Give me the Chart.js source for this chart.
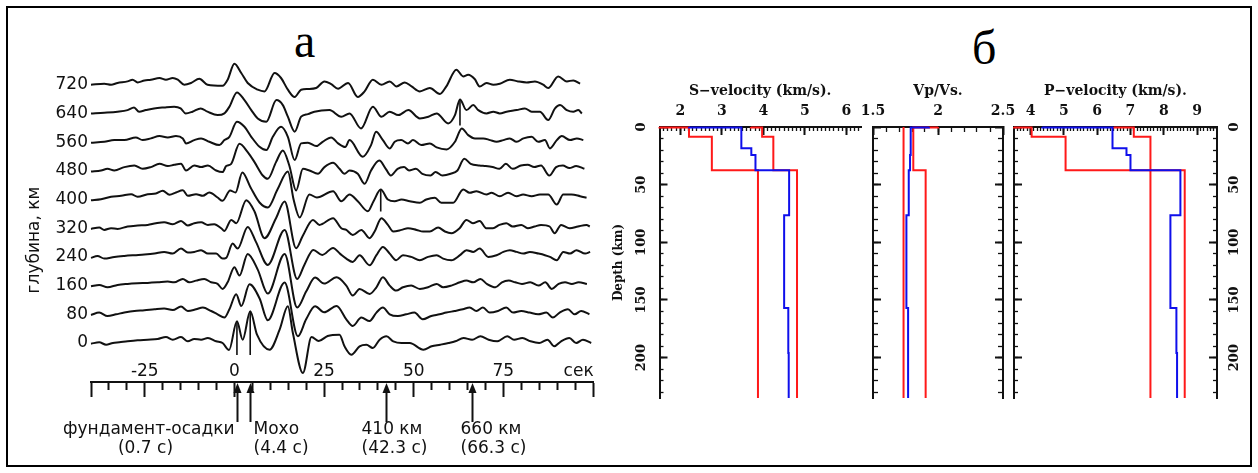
<!DOCTYPE html>
<html>
<head>
<meta charset="utf-8">
<script src="https://cdn.jsdelivr.net/npm/chart.js@4.4.0/dist/chart.umd.min.js"></script>
<style>
  html, body { margin: 0; padding: 0; background: #fff; }
  body { width: 1258px; height: 473px; position: relative; overflow: hidden; }
  .frame { position: absolute; left: 6px; top: 6px; width: 1242px; height: 457px; border: 2px solid #000; }
  canvas { position: absolute; top: 0; }
  .letter { position: absolute; font-family: "Liberation Serif", serif; font-size: 48px; line-height: 1; color: #000; }
</style>
</head>
<body>
<div class="frame"></div>
<div class="letter" style="left:294px; top:17px;">а</div>
<div class="letter" style="left:972px; top:24px;">б</div>
<canvas id="rf" width="620" height="473" style="left:0"></canvas>
<canvas id="vs" width="340" height="473" style="left:560px"></canvas>
<canvas id="vpvs" width="210" height="473" style="left:830px"></canvas>
<canvas id="vp" width="288" height="473" style="left:970px"></canvas>
<script>
// ---- panel a: receiver functions, [time s, amplitude] ----
const depthLabels = [0, 80, 160, 240, 320, 400, 480, 560, 640, 720];

const tr0 = [[-40,-0.7],[-37.7,0.7],[-35.8,-1.7],[-33.9,0],[-32.1,0.7],[-29.8,1.7],[-27,2.7],[-24.2,3.3],[-21.4,4],[-19.1,6],[-17.2,3.3],[-14.9,6],[-13,1.7],[-11.2,4],[-9.3,3.3],[-7.4,5],[-5.1,1.7],[-3.3,0],[-1.5,-7],[0.7,21.7],[2.3,3.3],[4.4,31.7],[6.3,8.3],[9.8,-6.7],[12.6,13.3],[14.9,36.7],[16.3,10],[19.1,-30],[21.5,6],[23.5,2],[26,7],[29.3,8.3],[30.7,-3.3],[32.6,-11.7],[34.9,-3.3],[36.8,-1.7],[38.6,-5],[40.5,3.3],[42.4,6.7],[44.3,1.7],[46.6,0],[48.9,0],[52.7,-6.7],[55,-3.3],[57.4,-1.7],[59.7,0],[61.6,1.7],[63.9,5],[66.3,3.3],[68.6,6.7],[70.9,3.3],[73.3,1.7],[76.1,6.7],[78,3.3],[80.3,5],[82.6,1.7],[85,0],[87.3,3.3],[89.2,-3.3],[91.1,1.7],[93.4,5],[95.3,0],[97.2,3.3],[99.5,0]];
const tr80 = [[-40,-0.7],[-37.7,1.7],[-35.4,-1.7],[-33,0],[-30.7,1.7],[-27.9,3.3],[-25.1,4],[-22.3,5],[-19.6,5.7],[-17.2,4.3],[-14.9,7.7],[-13,3.3],[-10.7,5],[-8.8,6.7],[-6.5,3.3],[-4.7,0],[-2.8,-3.3],[-1.4,5],[0.5,20],[1.9,8.3],[4.2,30],[7,16],[9.3,-6],[14,31.7],[17.7,-22],[20,-5],[22.5,8],[25,2],[28.5,8.3],[31.2,-5],[33,-11.7],[35.4,-3.3],[37.7,-6.7],[39.6,1.7],[41.4,6.7],[43.3,0],[45.6,-1.7],[47.9,0],[50.2,1.7],[52.5,-5],[54.9,-1.7],[57.2,0],[59.1,1.7],[61.4,3.3],[63.7,5],[65.6,6.7],[67.5,3.3],[69.3,6.7],[71.2,1.7],[73.5,3.3],[75.8,6.7],[77.7,1.7],[80,3.3],[82.3,1.7],[84.7,0],[87,1.7],[88.8,-3.3],[90.7,1.7],[93,5],[94.9,0],[96.7,3.3],[99,0]];
const tr160 = [[-40,-0.7],[-37.7,0.7],[-35.4,-1.7],[-32.6,0.7],[-29.8,1.7],[-27,2.3],[-24.2,2.7],[-21.4,3.3],[-18.6,4],[-16.8,3.3],[-14.4,6.7],[-12.6,3.3],[-10.7,5],[-8.4,6.7],[-6.5,3.3],[-4.7,1.7],[-3.3,-3.3],[-1.9,3.3],[0,18.3],[1.4,10],[3.7,31.7],[6.5,16],[9.3,-8],[14,31.7],[17.5,-22],[20,-6],[22.5,8],[25,2],[28.5,8.3],[31.2,0],[33,-10],[34.9,-3.3],[37.7,-8.3],[39.6,-1.7],[41.4,8.3],[43.3,0],[45.1,-5],[47,-1.7],[49.3,0],[51.7,-3.3],[54,-1.7],[56.4,1.7],[58.2,-1.7],[60.5,0],[62.9,3.3],[64.7,5],[66.6,3.3],[68.6,6.7],[70.4,1.7],[72.8,-1.7],[74.6,3.3],[76.5,5],[78.3,3.3],[80.2,1.7],[82.5,3.3],[84.8,0],[86.7,3.3],[88.5,-3.3],[90.4,1.7],[92.2,3.3],[94.1,1.7],[96,3.3],[98.3,1.7]];
const tr240 = [[-40,-1],[-38.2,1],[-36.3,-1.7],[-33.5,0],[-30.7,1],[-27.9,1.7],[-25.1,2.3],[-22.3,3.3],[-19.6,5],[-17.2,3.3],[-14.9,8.3],[-13,4.3],[-11.2,5],[-9.3,6.7],[-7.4,3.3],[-5.1,3.3],[-3.3,-1.7],[-2.3,-1],[-0.5,13.3],[0.9,8.3],[3.7,30],[6,15],[9.3,-8],[14,27],[17.5,-22],[19.5,-8],[22,7],[24.5,2],[27.5,9],[29.5,3],[31.2,-1.7],[33,-5],[34.9,1.7],[37.7,-8.3],[39.6,1.7],[41.4,10],[43.3,3.3],[45.1,-3.3],[47,1.7],[49.3,0],[51.7,-3.3],[54,0],[56.4,1.7],[58.2,-1.7],[60.5,-3.3],[62.9,1.7],[64.7,6.7],[66.6,5],[68.4,8.3],[70.8,0],[73.1,1.7],[75,5],[76.8,6.7],[78.7,5],[80.6,3.3],[82.4,5],[84.8,3.3],[86.6,1.7],[88,0],[89.9,-3.3],[91.7,5],[93.6,3.3],[95.4,6.7],[97.8,3.3],[99.2,5]];
const tr320 = [[-40,-0.7],[-37.7,0.7],[-36.3,-1.7],[-34.4,0],[-32.6,-0.7],[-29.8,1.7],[-27,2.7],[-24.2,3.3],[-21.9,5],[-19.6,6],[-17.2,4],[-14.9,7.3],[-13,2.7],[-11.2,5],[-9.3,6],[-7.4,3.3],[-5.6,4],[-3.7,0],[-2.8,-2.7],[-0.9,8.3],[0.5,5],[3.3,28],[5.6,16.7],[8.4,-10],[11.6,10],[14,26.7],[17.2,-20],[19,-8],[21.9,8.3],[23.7,3.3],[27.5,10],[29.8,0],[31.2,-1.7],[33,-6.7],[35.4,-1.7],[37.7,-10],[39.1,-3.3],[41,10],[42.8,3.3],[44.3,-3.3],[46.6,-1.7],[48.4,0],[50.8,-1.7],[52.6,-3.3],[54.5,-3.3],[56.8,0.7],[58.7,-3.3],[60.5,-5],[62.8,0],[64.7,8.3],[66.5,5],[68.4,7.3],[70.2,0],[72.1,0],[73.9,3.3],[75.8,5],[77.6,1.7],[80,3.3],[81.8,0],[83.7,1.7],[85.5,3.3],[87.9,1.7],[89.3,-5],[91.1,3.3],[93.5,0],[95.8,1.7],[98.2,3.3],[99.1,1.7]];
const tr400 = [[-40,-0.7],[-37.2,0.3],[-34.4,2.7],[-31.6,3.7],[-28.8,5.3],[-27,2.7],[-24.2,5.3],[-21.9,6],[-20,8.7],[-18.1,4.7],[-16.3,7],[-14.4,9.3],[-13,3.7],[-10.7,5.3],[-8.8,3.7],[-7,7],[-4.7,2],[-3.3,-1.3],[-1.2,9],[0.3,7],[2.2,27],[4.5,12],[7,-3],[9.3,-8],[12,10],[14.9,28],[16.5,0],[18.2,-18],[20.9,5],[23,2],[27.5,8.3],[29.8,-1.7],[32.1,5],[34.4,-1.7],[37.2,-11.7],[38.8,-1.7],[40.8,10],[42.8,0],[44.7,-1.7],[46.6,0],[48.9,-1.7],[51.7,-3.3],[53.5,0],[55.9,1.7],[57.7,-3.3],[61,-3.3],[63.8,10],[65.6,6.7],[67.5,8.3],[70.3,5],[71.7,6.7],[74,3.3],[76.3,6.7],[78.7,3.3],[80.5,5],[82.9,3.3],[85.2,5],[87.5,5],[89.9,-5],[91.7,5],[94,5],[96.4,3.3],[98.2,1.7]];
const tr480 = [[-40,-0.7],[-37.2,0.3],[-35.4,2],[-33.5,0.3],[-30.7,3.7],[-27.9,5.3],[-25.6,2],[-23.3,3.7],[-20.9,7],[-18.6,4.7],[-16.8,6],[-14.9,7],[-13.5,0.3],[-11.2,5.3],[-9.3,3.7],[-7.4,5.3],[-5.1,0.3],[-3.3,-1.3],[-2.3,4.7],[-0.9,7],[1.4,27],[3.7,18.7],[5.6,8.7],[7.9,-4.7],[9.3,-8],[11.6,8.7],[13.5,20.3],[15.3,5.3],[17.2,-19.7],[19.1,2],[20.9,0.3],[23.3,-3],[25.1,3.7],[27.5,8],[29.3,2],[30.7,-3],[32.1,0.3],[34.4,-3],[36.3,-13],[38.1,0.3],[40.4,10.3],[42.2,2],[43.6,-4.7],[45.5,2],[47.3,3.7],[48.7,0.3],[50.6,2],[52.4,-3],[54.7,-4.7],[56.1,-1.3],[58,-4.7],[60.3,-3],[62.2,0.3],[64.1,12],[65.9,7],[68.3,5.3],[70.1,4.7],[72,3.7],[73.9,2],[75.7,7],[77.6,2],[79.9,5.3],[81.8,6],[83.6,3.7],[85.5,5.3],[87.8,-4.7],[89.7,3.7],[91.6,5.3],[93.4,2.7],[95.3,4.7],[97.6,2]];
const tr560 = [[-40,-0.7],[-36.3,0.3],[-33.5,2],[-30.7,2],[-27.5,4.7],[-25.6,2],[-23.3,3.7],[-20.9,6],[-18.6,4.7],[-16.3,6],[-14.4,3.7],[-13.5,-1.3],[-11.2,2],[-9.3,3.7],[-7,0.3],[-4.2,-3],[-2.8,2],[-1.4,5.3],[0.7,20.3],[2.8,15.3],[4.7,5.3],[7,-4.7],[8.9,-8],[10.7,5.3],[13,15.3],[14.9,5.3],[16.8,-18],[18.6,-1.3],[20.5,-0.7],[22.8,-4],[24.6,0.3],[27,4.7],[28.9,-1.3],[30.9,-5],[32.1,2],[35.8,-14.7],[38.1,-3],[39.5,10.3],[41.4,2],[43.3,-6.3],[44.7,0.3],[46.5,2],[48.4,-1.3],[49.8,2],[52.1,-3],[54.5,-1.3],[56.4,-5.3],[59.2,-7.3],[61.5,0.3],[63.4,13.7],[65.2,7],[67.1,3.7],[69.4,3.7],[71.3,2],[73.1,0.3],[75,2],[76.8,3.7],[78.7,0.3],[80.6,3.7],[82.9,5.3],[84.7,0.3],[86.6,2],[88,-6.3],[89.9,2],[91.3,6],[93.6,2],[95.5,3.7],[97.3,2]];
const tr640 = [[-40,0],[-36.3,0.7],[-32.6,1.7],[-29.8,3.3],[-28,6],[-26.6,1.7],[-24.7,3.3],[-22.4,5],[-19.6,6],[-16.8,6.7],[-15,5],[-13.6,0],[-11.7,1.7],[-9.4,5],[-7.5,1.7],[-4.7,-1.7],[-2.8,0],[-1.4,6.7],[0.7,21],[2.8,13.3],[4.7,3.3],[6.5,-5],[8.9,-8.3],[11.7,13.3],[13.5,8.3],[14.9,-3.3],[16.8,-18.3],[18.6,-3.3],[20.5,-0.7],[22.3,1.7],[26.5,3.3],[29.8,-3.3],[32.1,0],[35.3,-15],[38.6,6.7],[41,-3.3],[43.3,1.7],[45.7,-1.7],[48.5,3.3],[51.7,-5],[54.1,-3.3],[56.4,0],[59.6,-10],[61.5,-1.7],[62.9,14],[64.7,3.3],[66.6,8.3],[68,3.3],[70.3,0],[72.2,1.7],[74,0],[75.9,1.7],[78.7,3.3],[81,5],[82.9,1.7],[85.2,1.7],[87.5,-6.7],[89.4,5],[90.8,8.3],[92.7,3.3],[94.5,1.7],[95.9,3.3],[96.9,0]];
const tr720 = [[-40,0],[-36.3,1],[-34.4,0],[-32.6,1.7],[-29.8,3.3],[-28.4,5],[-27,2.3],[-25.1,4.3],[-23.3,5],[-20.9,6.7],[-19.1,5],[-17.2,6.7],[-15.8,5],[-14,0],[-12.1,1.7],[-9.8,6],[-7.5,0],[-3.3,-1],[-1.9,5],[0,21],[1.9,11.7],[3.7,1.7],[6.5,-5],[8.4,-6.7],[11.2,11.7],[13,6.7],[14.9,-5],[16.8,-12.3],[18.6,-5],[20.5,-4.3],[22.8,-3.3],[25.1,3.3],[27,0.5],[28.9,-4],[31.7,1.7],[34.4,-12.3],[36.3,-6.7],[38.6,5],[41,0],[43.3,3.3],[45.2,-1.7],[47.5,2.3],[49.4,-1.7],[51.7,-6.7],[54.5,-3.3],[57.3,-9.3],[59.1,-1.7],[61.9,15],[63.8,8.3],[65.2,10],[67,5.7],[68.4,-1.7],[70.3,1.7],[72.2,0],[74,1],[76.8,5],[79.1,3.3],[81.5,2.3],[83.8,3.3],[86.1,0],[87.5,-3.3],[90.3,8.3],[92.7,3.3],[94.5,4.3],[96.4,1]];
const traces = [tr0, tr80, tr160, tr240, tr320, tr400, tr480, tr560, tr640, tr720];

// picks marked on the traces
const pickTimes = [0.7, 4.4, 40.8, 62.9];
const pickDepths = [0, 0, 400, 640];
const pickTops = [21.7, 31.7, 10, 14];

// phases marked under the time axis
const phaseTimes = [0.7, 4.4, 42.3, 66.3];
const phaseNames = ['фундамент-осадки', 'Мохо', '410 км', '660 км'];

const timeTicks = [-25, 0, 25, 50, 75];
const timeUnit = 'сек';

// ---- panel b: velocity models, depth in km ----
const depthTicks = [0, 50, 100, 150, 200];
const sTicks = [2, 3, 4, 5, 6];
const ratioTicks = [1.5, 2, 2.5];
const pTicks = [4, 5, 6, 7, 8, 9];

const boundTops = [0, 0.5, 8.4, 37.4];
const sLow = [1.5, 2.21, 2.76, 3.87];
const sHigh = [3.7, 3.97, 4.24, 4.81];
const ratioLow = [1.735, 1.735, 1.735, 1.735];
const ratioHigh = [2.0, 1.81, 1.81, 1.905];
const pLow = [3.5, 4.03, 5.05, 7.6];
const pHigh = [6.5, 7.1, 7.6, 8.63];

const modelTops = [0, 0.5, 18.5, 24.3, 37.4, 76.5, 157, 196];
const sModel = [2.21, 3.47, 3.71, 3.81, 4.62, 4.5, 4.6, 4.61];
const ratioModel = [1.93, 1.79, 1.79, 1.785, 1.775, 1.757, 1.77, 1.77];
const pModel = [4.35, 6.46, 6.88, 7.0, 8.5, 8.2, 8.38, 8.4];

// ------------------------------------------------------------------
const ink = '#111';
const red = 'rgb(255,25,25)';
const blue = 'rgb(15,15,235)';
const traceGap = 28.7;
const depthMax = 235;

Chart.defaults.font.family = '"DejaVu Sans", sans-serif';
Chart.defaults.font.size = 17;
Chart.defaults.color = ink;

function steps(from, to, step) {
  const out = [];
  const n = Math.round((to - from) / step);
  for (let i = 0; i <= n; i++) out.push(+(from + i * step).toFixed(3));
  return out;
}

const phaseText = [
  { a1: 'right', d1: -3, a2: 'center', d2: -92 },
  { a1: 'left', d1: 3, a2: 'left', d2: 3 },
  { a1: 'left', d1: -25, a2: 'left', d2: -25 },
  { a1: 'left', d1: -12, a2: 'left', d2: -12 }
];

const phaseArrows = {
  id: 'phaseArrows',
  afterDraw(chart) {
    const { ctx, chartArea } = chart;
    const xs = chart.scales.x;
    const tip = chartArea.bottom + 1;
    ctx.save();
    ctx.fillStyle = ink;
    ctx.strokeStyle = ink;
    ctx.lineWidth = 2;
    ctx.font = '17px "DejaVu Sans"';
    ctx.textBaseline = 'middle';
    phaseTimes.forEach((t, i) => {
      const px = Math.round(xs.getPixelForValue(t)) + 0.5;
      ctx.beginPath();
      ctx.moveTo(px, tip + 6);
      ctx.lineTo(px, tip + 39);
      ctx.stroke();
      ctx.beginPath();
      ctx.moveTo(px, tip);
      ctx.lineTo(px - 4, tip + 10);
      ctx.lineTo(px + 4, tip + 10);
      ctx.closePath();
      ctx.fill();
      const st = phaseText[i];
      ctx.textAlign = st.a1;
      ctx.fillText(phaseNames[i], px + st.d1, chartArea.bottom + 48);
      ctx.textAlign = st.a2;
      ctx.fillText('(' + t + ' с)', px + st.d2, chartArea.bottom + 67);
    });
    ctx.restore();
  }
};

const rfData = traces.map((tr, k) => ({
  data: tr.map(([t, a]) => ({ x: t, y: a + k * traceGap })),
  borderColor: ink,
  borderWidth: 2,
  cubicInterpolationMode: 'monotone',
  clip: false
}));
pickTimes.forEach((t, i) => {
  const base = depthLabels.indexOf(pickDepths[i]) * traceGap;
  rfData.push({
    data: [{ x: t, y: base + pickTops[i] }, { x: t, y: base - 12 }],
    borderColor: ink,
    borderWidth: 1.6,
    tension: 0,
    clip: false
  });
});

const majorTimes = [-40].concat(timeTicks, [96, 100]);

new Chart(document.getElementById('rf'), {
  type: 'line',
  data: { datasets: rfData },
  plugins: [phaseArrows],
  options: {
    responsive: false,
    animation: false,
    events: [],
    layout: { padding: { left: 20, right: 27, top: 98, bottom: 76 } },
    plugins: { legend: { display: false }, tooltip: { enabled: false } },
    elements: { point: { radius: 0 }, line: { capBezierPoints: false } },
    scales: {
      x: {
        type: 'linear', position: 'bottom', weight: 0, min: -40, max: 100,
        ticks: { display: false, stepSize: 5 },
        grid: { drawOnChartArea: false, tickLength: 8, tickWidth: 2, tickColor: ink },
        border: { display: true, color: ink, width: 2 },
        afterFit: s => { s.height = 8; }
      },
      xMajor: {
        type: 'linear', position: 'bottom', weight: 1, min: -40, max: 100,
        afterBuildTicks: s => { s.ticks = majorTimes.map(v => ({ value: v })); },
        ticks: {
          autoSkip: false, maxRotation: 0, mirror: true, padding: 8, color: ink,
          callback: v => timeTicks.includes(v) ? String(v) : (v === 96 ? timeUnit : '')
        },
        grid: {
          drawOnChartArea: false, tickLength: 7, tickWidth: 2,
          tickColor: c => (c.tick && c.tick.value === 96) ? 'rgba(0,0,0,0)' : ink
        },
        border: { display: false },
        afterFit: s => { s.height = 7; }
      },
      y: {
        type: 'linear', position: 'left', min: -39, max: 245,
        afterBuildTicks: s => { s.ticks = depthLabels.map((d, k) => ({ value: k * traceGap })); },
        ticks: { autoSkip: false, padding: 3, color: ink, callback: (v, i) => String(depthLabels[i]) },
        grid: { display: false, drawTicks: false },
        border: { display: false },
        title: { display: true, text: 'глубина, км', color: ink, font: { size: 17 } },
        afterFit: s => { s.width = 71; }
      }
    }
  }
});

// ---- velocity panels ----
const serifBold = size => ({ family: '"DejaVu Serif", serif', size, weight: 'bold' });
const depthMinor = steps(10, 230, 10);

function edgePair(side, range, majorTicks, minorTicks, o) {
  const horiz = side === 'top';
  const sizeKey = horiz ? 'height' : 'width';
  const common = { type: 'linear', position: side, min: range[0], max: range[1], reverse: !horiz };
  const minor = Object.assign({}, common, {
    weight: 0,
    afterBuildTicks: s => { s.ticks = minorTicks.map(v => ({ value: v })); },
    afterFit: s => { s[sizeKey] = 0; },
    ticks: { display: false },
    grid: { drawOnChartArea: false, tickLength: -o.minorLen, tickWidth: 1.3, tickColor: ink },
    border: { display: false }
  });
  const major = Object.assign({}, common, {
    weight: 1,
    afterBuildTicks: s => { s.ticks = majorTicks.map(v => ({ value: v })); },
    afterFit: s => { s[sizeKey] = o.size; },
    ticks: {
      display: !!o.labels, autoSkip: false, color: ink, padding: o.pad || 0,
      font: serifBold(o.fontSize || 14),
      minRotation: horiz ? 0 : 90, maxRotation: horiz ? 0 : 90,
      crossAlign: horiz ? 'near' : 'center',
      callback: v => String(v)
    },
    grid: { drawOnChartArea: false, tickLength: -o.majorLen, tickWidth: 2, tickColor: ink },
    border: { display: true, color: ink, width: 2 },
    title: o.title
      ? { display: true, text: o.title, color: ink, font: serifBold(o.titleSize || 14), padding: { top: 4, bottom: 4 } }
      : { display: false }
  });
  return [major, minor];
}

function profile(values, tops, color) {
  const pts = values.map((v, i) => ({ x: v, y: tops[i] }));
  pts.push({ x: values[values.length - 1], y: depthMax });
  return { data: pts, borderColor: color, borderWidth: 2, stepped: 'after', clip: false, xAxisID: 'x', yAxisID: 'y' };
}

function profileChart(id, scales, datasets, padding) {
  return new Chart(document.getElementById(id), {
    type: 'line',
    data: { datasets },
    options: {
      responsive: false,
      animation: false,
      events: [],
      layout: { padding },
      plugins: { legend: { display: false }, tooltip: { enabled: false } },
      elements: { point: { radius: 0 } },
      scales
    }
  });
}

const depthRange = [0, depthMax];

// S-velocity
{
  const [top, topMinor] = edgePair('top', [1.5, 6.35], sTicks, steps(1.6, 6.3, 0.1),
    { size: 48, majorLen: 8, minorLen: 4, labels: true, pad: 15, title: 'S−velocity (km/s).' });
  const [left, leftMinor] = edgePair('left', depthRange, depthTicks, depthMinor,
    { size: 52, majorLen: 8, minorLen: 4, labels: true, pad: 12, fontSize: 13, title: 'Depth (km)', titleSize: 12 });
  profileChart('vs', { x: top, xMinor: topMinor, y: left, yMinor: leftMinor },
    [profile(sModel, modelTops, blue), profile(sLow, boundTops, red), profile(sHigh, boundTops, red)],
    { left: 47.5, right: 39, top: 79, bottom: 75 });
}

// Vp/Vs
{
  const [top, topMinor] = edgePair('top', [1.5, 2.5], ratioTicks, steps(1.6, 2.4, 0.1),
    { size: 48, majorLen: 8, minorLen: 5, labels: true, pad: 15, title: 'Vp/Vs.' });
  const [left, leftMinor] = edgePair('left', depthRange, depthTicks, depthMinor, { size: 0, majorLen: 8, minorLen: 5 });
  const [right, rightMinor] = edgePair('right', depthRange, depthTicks, depthMinor, { size: 0, majorLen: 8, minorLen: 5 });
  profileChart('vpvs', { x: top, xMinor: topMinor, y: left, yMinor: leftMinor, yRight: right, yRightMinor: rightMinor },
    [profile(ratioModel, modelTops, blue), profile(ratioLow, boundTops, red), profile(ratioHigh, boundTops, red)],
    { left: 43, right: 37, top: 79, bottom: 75 });
}

// P-velocity
{
  const [top, topMinor] = edgePair('top', [3.5, 9.6], pTicks, steps(3.6, 9.5, 0.1),
    { size: 48, majorLen: 8, minorLen: 4, labels: true, pad: 15, title: 'P−velocity (km/s).' });
  const [left, leftMinor] = edgePair('left', depthRange, depthTicks, depthMinor, { size: 0, majorLen: 8, minorLen: 4 });
  const [right, rightMinor] = edgePair('right', depthRange, depthTicks, depthMinor,
    { size: 30, majorLen: 8, minorLen: 4, labels: true, pad: 12, fontSize: 13 });
  profileChart('vp', { x: top, xMinor: topMinor, y: left, yMinor: leftMinor, yRight: right, yRightMinor: rightMinor },
    [profile(pModel, modelTops, blue), profile(pLow, boundTops, red), profile(pHigh, boundTops, red)],
    { left: 44, right: 11, top: 79, bottom: 75 });
}
</script>
</body>
</html>
